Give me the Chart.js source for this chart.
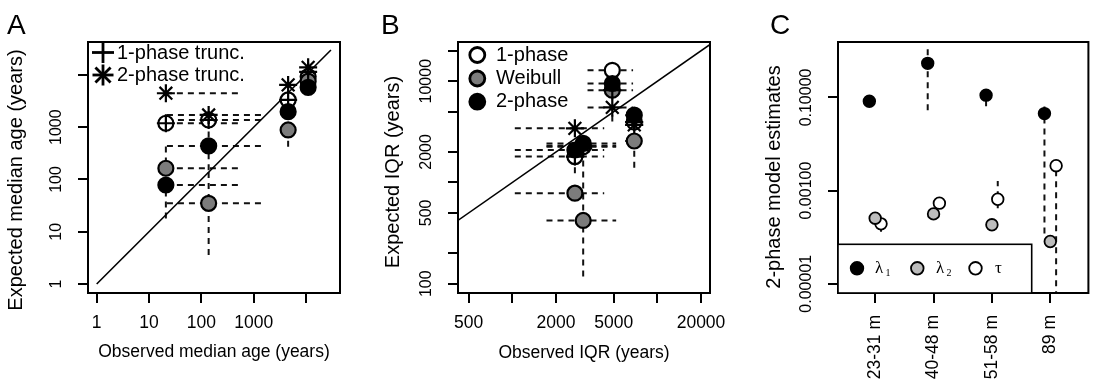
<!DOCTYPE html>
<html><head><meta charset="utf-8">
<script src="https://cdn.jsdelivr.net/npm/chart.js@4.4.1/dist/chart.umd.min.js"></script>
<style>
html,body{margin:0;padding:0;background:#fff;width:1096px;height:381px;overflow:hidden}
canvas{position:absolute;left:0;top:0}
</style></head><body>
<canvas id="cA" width="1096" height="381"></canvas>
<canvas id="cB" width="1096" height="381"></canvas>
<canvas id="cC" width="1096" height="381"></canvas>
<script>
// ---------------- Panel A : median age ----------------
const A_OBSERVED_MEDIAN = [21, 138, 4560, 11000];
const A_ONE_PHASE       = [1190, 1375, 3325, 9300];
const A_WEIBULL         = [164, 35, 886, 7600];
const A_TWO_PHASE       = [78.5, 438, 1985, 5800];
const A_ONE_PHASE_TRUNC = [1190, 1375, 3325, 11500];
const A_TWO_PHASE_TRUNC = [4470, 1715, 6440, 14000];
const A_OBS_LOW         = [21, 22, null, null];
const A_OBS_HIGH        = [535, 1620, null, null];
const A_TWO_PHASE_LOW   = [18, 150, null, null];
const A_TWO_PHASE_HIGH  = [440, 826, null, null];
const A_WEIBULL_LOW     = [null, 3.6, 425, null];
const A_WEIBULL_HIGH    = [null, 150, null, null];
const A_TICKS           = [1, 10, 100, 1000, 10000];
const A_TICK_LABELS     = ['1', '10', '100', '1000', ''];

// ---------------- Panel B : IQR ----------------
const B_OBSERVED_IQR    = [2700, 3080, 4890, 6930];
const B_ONE_PHASE       = [1800, 2250, 12800, 3950];
const B_WEIBULL         = [783, 421, 8150, 2565];
const B_TWO_PHASE       = [2090, 2430, 9490, 4620];
const B_ONE_PHASE_TRUNC = [1800, 2170, 8150, 3950];
const B_TWO_PHASE_TRUNC = [3420, 2300, 5510, 3700];
const B_OBS_LOW         = [1040, 1720, 3300, 6000];
const B_OBS_HIGH        = [4300, 5200, 6800, 7800];
const B_ONE_PHASE_LOW   = [1230, null, null, null];
const B_ONE_PHASE_HIGH  = [null, null, 16100, null];
const B_WEIBULL_LOW     = [null, 118, null, 1400];
const B_WEIBULL_HIGH    = [null, 1790, null, null];
const B_TWO_TRUNC_LOW   = [null, null, 4000, null];
const B_X_TICKS         = [500, 1000, 2000, 5000, 10000, 20000];
const B_X_TICK_LABELS   = ['500', '', '2000', '5000', '', '20000'];
const B_Y_TICKS         = [100, 200, 500, 1000, 2000, 5000, 10000, 20000];
const B_Y_TICK_LABELS   = ['100', '', '500', '', '2000', '', '10000', ''];

// ---------------- Panel C : 2-phase estimates ----------------
const C_DEPTHS        = ['23-31 m', '40-48 m', '51-58 m', '89 m'];
const C_LAMBDA1       = [0.083, 0.54, 0.112, 0.045];
const C_LAMBDA1_LOW   = [null, 0.053, 0.065, 0.00012];
const C_LAMBDA1_HIGH  = [null, 1.2, 0.175, 0.074];
const C_LAMBDA2       = [0.000255, 0.000316, 0.000184, 0.0000806];
const C_TAU           = [0.000193, 0.000537, 0.000652, 0.00342];
const C_TAU_LOW       = [0.00013, null, 0.00042, 0.000001];
const C_TAU_HIGH      = [null, null, 0.0016, null];
const C_Y_TICKS       = [0.1, 0.001, 0.00001];
const C_Y_TICK_LABELS = ['0.10000', '0.00100', '0.00001'];

// ---------------- helpers ----------------
const SANS = '"Liberation Sans", Arial, Helvetica, sans-serif';
const SERIF = '"Liberation Serif", "DejaVu Serif", serif';
const GREY_AB = '#7c7c7c', GREY_C = '#bcbcbc';

function pts(xs, ys) { return xs.map((x, i) => ({x, y: ys[i]})); }
function xBars(xs, ys, lo, hi) {
  const out = [];
  xs.forEach((x, i) => { if (lo[i] != null) out.push([lo[i], ys[i], hi[i], ys[i]]); });
  return out;
}
function yBars(xs, ys, lo, hi) {
  const out = [];
  xs.forEach((x, i) => {
    const l = lo ? lo[i] : null, h = hi ? hi[i] : null;
    if (l != null || h != null) out.push([x, l != null ? l : ys[i], x, h != null ? h : ys[i]]);
  });
  return out;
}
function circ(data, fill, r, bw, order) {
  return {data, pointStyle: 'circle', pointRadius: r, pointBackgroundColor: fill,
          pointBorderColor: '#000', pointBorderWidth: bw, order};
}
function mark(data, style, r, order) {
  return {data, pointStyle: style, pointRadius: r, pointBackgroundColor: '#000',
          pointBorderColor: '#000', pointBorderWidth: 2.2, order};
}
function diag(lo, hi) {
  return {data: [{x: lo, y: lo}, {x: hi, y: hi}], showLine: true, borderColor: '#000',
          borderWidth: 1.6, pointRadius: 0, order: 20};
}
function axis(type, min, max, ticks, vertical) {
  return {
    type, min, max, position: vertical ? 'left' : 'bottom',
    afterBuildTicks: s => { s.ticks = ticks.map(v => ({value: v})); },
    afterFit: s => { if (vertical) s.width = 0; else s.height = 0; },
    ticks: {display: false},
    grid: {display: true, drawOnChartArea: false, drawTicks: true, tickLength: 10, color: '#000', lineWidth: 2},
    border: {display: false}
  };
}
function text(ctx, s, x, y, o) {
  ctx.save();
  ctx.translate(x, y);
  if (o.rot) ctx.rotate(o.rot);
  ctx.font = (o.size || 17) + 'px ' + (o.family || SANS);
  ctx.textAlign = o.align || 'center';
  ctx.textBaseline = o.baseline || 'middle';
  ctx.fillStyle = '#000';
  ctx.fillText(s, 0, 0);
  ctx.restore();
}
function seg(ctx, x1, y1, x2, y2) { ctx.beginPath(); ctx.moveTo(x1, y1); ctx.lineTo(x2, y2); ctx.stroke(); }
function disc(ctx, x, y, r, fill, lw) {
  ctx.beginPath(); ctx.arc(x, y, r, 0, Math.PI * 2); ctx.fillStyle = fill; ctx.fill();
  ctx.lineWidth = lw; ctx.strokeStyle = '#000'; ctx.stroke();
}

const PANELS = {};

const panelPlugin = {
  id: 'panelDeco',
  beforeDatasetsDraw(chart) {
    const P = PANELS[chart.canvas.id]; if (!P) return;
    const ctx = chart.ctx, a = chart.chartArea, xs = chart.scales.x, ys = chart.scales.y;
    ctx.save();
    ctx.beginPath(); ctx.rect(a.left, a.top, a.right - a.left, a.bottom - a.top); ctx.clip();
    ctx.setLineDash([6, 5]); ctx.lineWidth = 2; ctx.strokeStyle = '#111';
    P.bars.forEach(b => seg(ctx, xs.getPixelForValue(b[0]), ys.getPixelForValue(b[1]),
                                 xs.getPixelForValue(b[2]), ys.getPixelForValue(b[3])));
    ctx.restore();
  },
  afterDraw(chart) {
    const P = PANELS[chart.canvas.id]; if (!P) return;
    const ctx = chart.ctx, a = chart.chartArea, xs = chart.scales.x, ys = chart.scales.y;
    ctx.save();
    ctx.setLineDash([]);
    ctx.strokeStyle = '#000'; ctx.lineWidth = 2;
    ctx.strokeRect(a.left, a.top, a.right - a.left, a.bottom - a.top);
    P.yTicks.forEach((v, i) => {
      const t = P.yTickLabels[i];
      if (t) text(ctx, t, a.left - 31, ys.getPixelForValue(v), {size: 16, rot: -Math.PI / 2});
    });
    P.xTicks.forEach((v, i) => {
      const t = P.xTickLabels[i];
      if (!t) return;
      if (P.xRot) text(ctx, t, xs.getPixelForValue(v), a.bottom + 22, {size: 17.5, rot: -Math.PI / 2, align: 'right'});
      else text(ctx, t, xs.getPixelForValue(v), a.bottom + 30, {size: 17.5});
    });
    if (P.xTitle) text(ctx, P.xTitle, (a.left + a.right) / 2, P.xTitleY, {size: 17.5});
    text(ctx, P.yTitle, P.yTitleX, P.yTitleY, {size: 20, rot: -Math.PI / 2});
    text(ctx, P.letter, P.letterX, 34, {size: 28, align: 'left', baseline: 'alphabetic'});
    P.legend(ctx, a);
    ctx.restore();
  }
};

function mkChart(id, datasets, x, y, padding) {
  return new Chart(document.getElementById(id), {
    type: 'scatter',
    data: {datasets},
    options: {
      responsive: false, animation: false, devicePixelRatio: 1, events: [],
      layout: {padding},
      plugins: {legend: {display: false}, tooltip: {enabled: false}},
      scales: {x, y}
    },
    plugins: [panelPlugin]
  });
}

// ---------------- Panel A ----------------
PANELS.cA = {
  letter: 'A', letterX: 7,
  yTitle: 'Expected median age (years)', yTitleX: 16, yTitleY: 180,
  xTitle: 'Observed median age (years)', xTitleY: 352,
  xTicks: A_TICKS, xTickLabels: A_TICK_LABELS, yTicks: A_TICKS, yTickLabels: A_TICK_LABELS,
  bars: [].concat(
    xBars(A_OBSERVED_MEDIAN, A_ONE_PHASE, A_OBS_LOW, A_OBS_HIGH),
    xBars(A_OBSERVED_MEDIAN, A_WEIBULL, A_OBS_LOW, A_OBS_HIGH),
    xBars(A_OBSERVED_MEDIAN, A_TWO_PHASE, A_OBS_LOW, A_OBS_HIGH),
    xBars(A_OBSERVED_MEDIAN, A_TWO_PHASE_TRUNC, A_OBS_LOW, A_OBS_HIGH),
    yBars(A_OBSERVED_MEDIAN, A_TWO_PHASE, A_TWO_PHASE_LOW, A_TWO_PHASE_HIGH),
    yBars(A_OBSERVED_MEDIAN, A_WEIBULL, A_WEIBULL_LOW, A_WEIBULL_HIGH)
  ),
  legend(ctx) {
    ctx.strokeStyle = '#000'; ctx.lineWidth = 2.8; ctx.setLineDash([]);
    seg(ctx, 92, 52.5, 114, 52.5); seg(ctx, 103, 42, 103, 63);
    const cx = 103, cy = 75, r = 10.5, d = r * 0.72;
    seg(ctx, cx - r, cy, cx + r, cy); seg(ctx, cx, cy - r, cx, cy + r);
    seg(ctx, cx - d, cy - d, cx + d, cy + d); seg(ctx, cx - d, cy + d, cx + d, cy - d);
    text(ctx, '1-phase trunc.', 117, 53, {size: 20, align: 'left'});
    text(ctx, '2-phase trunc.', 117, 75.5, {size: 20, align: 'left'});
  }
};
mkChart('cA', [
  mark(pts(A_OBSERVED_MEDIAN, A_TWO_PHASE_TRUNC), 'star', 9, 1),
  mark(pts(A_OBSERVED_MEDIAN, A_ONE_PHASE_TRUNC), 'cross', 9, 2),
  circ(pts(A_OBSERVED_MEDIAN, A_TWO_PHASE), '#000', 7.5, 2.2, 3),
  circ(pts(A_OBSERVED_MEDIAN, A_WEIBULL), GREY_AB, 7.5, 2.2, 4),
  circ(pts(A_OBSERVED_MEDIAN, A_ONE_PHASE), '#fff', 7.5, 2.2, 5),
  diag(1, 30000)
], axis('logarithmic', 0.682, 44700, A_TICKS, false),
   axis('logarithmic', 0.673, 42700, A_TICKS, true),
   {left: 88, right: 756, top: 42, bottom: 88});

// ---------------- Panel B ----------------
PANELS.cB = {
  letter: 'B', letterX: 381,
  yTitle: 'Expected IQR (years)', yTitleX: 393, yTitleY: 172,
  xTitle: 'Observed IQR (years)', xTitleY: 353,
  xTicks: B_X_TICKS, xTickLabels: B_X_TICK_LABELS, yTicks: B_Y_TICKS, yTickLabels: B_Y_TICK_LABELS,
  bars: [].concat(
    xBars(B_OBSERVED_IQR, B_ONE_PHASE, B_OBS_LOW, B_OBS_HIGH),
    xBars(B_OBSERVED_IQR, B_WEIBULL, B_OBS_LOW, B_OBS_HIGH),
    xBars(B_OBSERVED_IQR, B_TWO_PHASE, B_OBS_LOW, B_OBS_HIGH),
    xBars(B_OBSERVED_IQR, B_TWO_PHASE_TRUNC, B_OBS_LOW, B_OBS_HIGH),
    yBars(B_OBSERVED_IQR, B_ONE_PHASE, B_ONE_PHASE_LOW, B_ONE_PHASE_HIGH),
    yBars(B_OBSERVED_IQR, B_WEIBULL, B_WEIBULL_LOW, B_WEIBULL_HIGH),
    yBars(B_OBSERVED_IQR, B_TWO_PHASE_TRUNC, B_TWO_TRUNC_LOW, null)
  ),
  legend(ctx) {
    ctx.setLineDash([]);
    disc(ctx, 477.3, 55, 7.5, '#fff', 2.8);
    disc(ctx, 477.3, 78.5, 7.5, GREY_AB, 2.8);
    disc(ctx, 477.3, 101.7, 7.5, '#000', 2.8);
    text(ctx, '1-phase', 496, 55, {size: 20, align: 'left'});
    text(ctx, 'Weibull', 496, 78.5, {size: 20, align: 'left'});
    text(ctx, '2-phase', 496, 101.7, {size: 20, align: 'left'});
  }
};
mkChart('cB', [
  mark(pts(B_OBSERVED_IQR, B_TWO_PHASE_TRUNC), 'star', 9, 1),
  mark(pts(B_OBSERVED_IQR, B_ONE_PHASE_TRUNC), 'cross', 9, 2),
  circ(pts(B_OBSERVED_IQR, B_TWO_PHASE), '#000', 7.5, 2.2, 3),
  circ(pts(B_OBSERVED_IQR, B_WEIBULL), GREY_AB, 7.5, 2.2, 4),
  circ(pts(B_OBSERVED_IQR, B_ONE_PHASE), '#fff', 7.5, 2.2, 5),
  diag(300, 40000)
], axis('logarithmic', 422, 23070, B_X_TICKS, false),
   axis('logarithmic', 80.9, 24380, B_Y_TICKS, true),
   {left: 458, right: 386, top: 42, bottom: 88});

// ---------------- Panel C ----------------
const C_POS = C_DEPTHS.map((d, i) => i + 1);
const DODGE = 0.1;
const C_POS_L1 = C_POS.map(p => p - DODGE), C_POS_TAU = C_POS.map(p => p + DODGE);
PANELS.cC = {
  letter: 'C', letterX: 770,
  yTitle: '2-phase model estimates', yTitleX: 774, yTitleY: 177,
  xTitle: null, xRot: true,
  xTicks: C_POS, xTickLabels: C_DEPTHS, yTicks: C_Y_TICKS, yTickLabels: C_Y_TICK_LABELS,
  bars: [].concat(
    yBars(C_POS_L1, C_LAMBDA1, C_LAMBDA1_LOW, C_LAMBDA1_HIGH),
    yBars(C_POS_TAU, C_TAU, C_TAU_LOW, C_TAU_HIGH)
  ),
  legend(ctx, a) {
    ctx.setLineDash([]);
    ctx.fillStyle = '#fff';
    ctx.fillRect(a.left, 244.3, 1031.7 - a.left, a.bottom - 244.3);
    ctx.strokeStyle = '#000'; ctx.lineWidth = 1.6;
    ctx.strokeRect(a.left, 244.3, 1031.7 - a.left, a.bottom - 244.3);
    const y = 268.3;
    disc(ctx, 857, y, 6.3, '#000', 1.8);
    disc(ctx, 917.3, y, 6.3, GREY_C, 1.8);
    disc(ctx, 975.5, y, 6.3, '#fff', 1.8);
    text(ctx, 'λ', 875, y, {size: 17, align: 'left', family: SERIF});
    text(ctx, '1', 885.5, y + 5, {size: 10, align: 'left', family: SERIF});
    text(ctx, 'λ', 936, y, {size: 17, align: 'left', family: SERIF});
    text(ctx, '2', 946.5, y + 5, {size: 10, align: 'left', family: SERIF});
    text(ctx, 'τ', 995, y, {size: 17, align: 'left', family: SERIF});
  }
};
mkChart('cC', [
  circ(pts(C_POS_L1, C_LAMBDA1), '#000', 5.8, 1.8, 1),
  circ(pts(C_POS, C_LAMBDA2), GREY_C, 5.8, 1.8, 2),
  circ(pts(C_POS_TAU, C_TAU), '#fff', 5.8, 1.8, 3)
], axis('linear', 0.363, 4.653, C_POS, false),
   axis('logarithmic', 6.32e-6, 1.552, C_Y_TICKS, true),
   {left: 838, right: 6, top: 42, bottom: 88});
</script>
</body></html>
